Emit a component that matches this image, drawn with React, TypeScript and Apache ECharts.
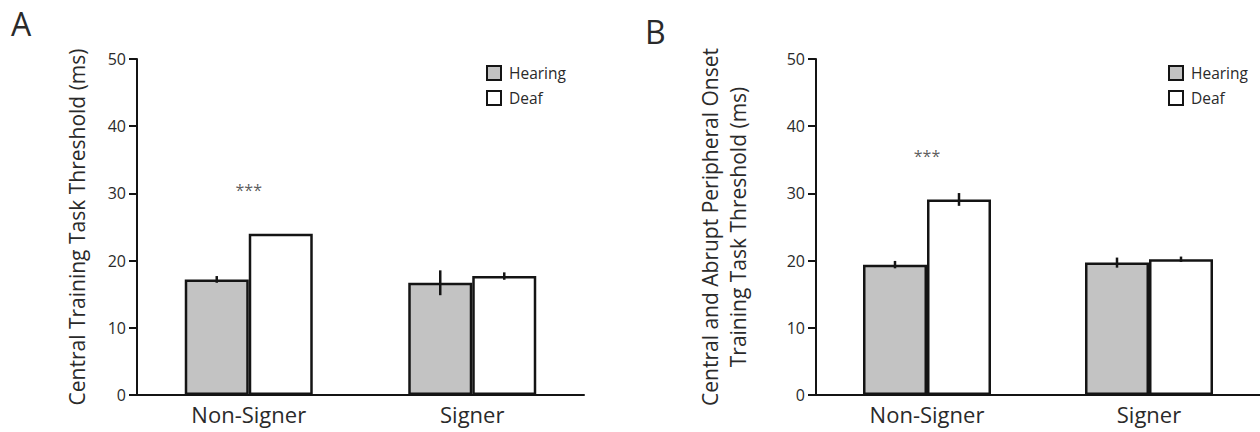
import React, { useEffect, useRef } from "react";
import * as echarts from "echarts";

const categories = ["Non-Signer", "Signer"];
const seriesNames = ["Hearing", "Deaf"];

// Panel A: Central Training Task Threshold (ms)
const aHearing = [17.2, 16.7];
const aHearingErr = [0.5, 1.85];
const aDeaf = [24.0, 17.7];
const aDeafErr = [0, 0.55];
const aSignificance = [30.5, null];

// Panel B: Central and Abrupt Peripheral Onset Training Task Threshold (ms)
const bHearing = [19.4, 19.7];
const bHearingErr = [0.55, 0.75];
const bDeaf = [29.1, 20.2];
const bDeafErr = [0.95, 0.4];
const bSignificance = [35.5, null];

const yTicks = [0, 10, 20, 30, 40, 50];

const FONT = "'Open Sans', 'Noto Sans', sans-serif";
const TEXT = "#2a2a2a";
const INK = "#141414";
const GRAY = "#c3c3c3";
const BAR_W = 64;

function errSeries(name: string, idx: number, vals: number[], errs: number[], offset: number) {
  return {
    type: "custom",
    name,
    xAxisIndex: idx,
    yAxisIndex: idx,
    z: 5,
    silent: true,
    data: vals.map((v, i) => [i, v, errs[i]]),
    renderItem: (params: any, api: any) => {
      const cat = api.value(0);
      const v = api.value(1);
      const e = api.value(2);
      if (!e) return null;
      const top = api.coord([cat, v + e]);
      const bot = api.coord([cat, v - e]);
      const x = top[0] + offset;
      return {
        type: "line",
        shape: { x1: x, y1: top[1], x2: x, y2: bot[1] },
        style: { stroke: INK, lineWidth: 2.5 },
      };
    },
  };
}

function sigSeries(idx: number, vals: (number | null)[]) {
  return {
    type: "scatter",
    name: "sig" + idx,
    xAxisIndex: idx,
    yAxisIndex: idx,
    symbolSize: 1,
    itemStyle: { color: "transparent" },
    silent: true,
    data: vals.map((v, i) => (v == null ? null : [i, v])).filter((d) => d) as any,
    label: {
      show: true,
      position: "inside",
      formatter: "***",
      fontFamily: FONT,
      fontSize: 16,
      color: "#333333",
    },
  };
}

function barSeries(name: string, idx: number, vals: number[], color: string) {
  return {
    type: "bar",
    name,
    xAxisIndex: idx,
    yAxisIndex: idx,
    data: vals,
    barWidth: BAR_W,
    barGap: "0%",
    itemStyle: { color, borderColor: INK, borderWidth: 2.5 },
  };
}

function yAxis(idx: number, name: string, nameGap: number, lineHeight: number) {
  return {
    type: "value",
    gridIndex: idx,
    min: yTicks[0],
    max: yTicks[yTicks.length - 1],
    interval: 10,
    name,
    nameLocation: "middle",
    nameGap,
    nameTextStyle: { fontFamily: FONT, fontSize: 21, color: TEXT, lineHeight },
    axisLine: { show: true, lineStyle: { color: INK, width: 2 } },
    axisTick: { show: true, length: 8, lineStyle: { color: INK, width: 2 } },
    axisLabel: { fontFamily: FONT, fontSize: 16, color: TEXT, margin: 11 },
    splitLine: { show: false },
  };
}

function xAxis(idx: number) {
  return {
    type: "category",
    gridIndex: idx,
    data: categories,
    axisLine: { show: true, lineStyle: { color: INK, width: 2 } },
    axisTick: { show: false },
    axisLabel: { fontFamily: FONT, fontSize: 22, color: TEXT, margin: 8 },
  };
}

function legend(left: number) {
  return {
    left,
    top: 60,
    orient: "vertical",
    icon: "rect",
    itemWidth: 14,
    itemHeight: 14,
    itemGap: 9,
    selectedMode: false,
    data: seriesNames,
    itemStyle: { borderColor: INK, borderWidth: 2 },
    textStyle: { fontFamily: FONT, fontSize: 15.5, color: TEXT, padding: [0, 0, 0, 3] },
  };
}

export default function App() {
  const ref = useRef<HTMLDivElement>(null);
  useEffect(() => {
    document.body.style.margin = "0";
    const chart = echarts.init(ref.current!, undefined, { renderer: "svg" });
    chart.setOption({
      animation: false,
      backgroundColor: "#ffffff",
      textStyle: { fontFamily: FONT },
      grid: [
        { left: 137, top: 59, width: 447, height: 336 },
        { left: 816, top: 59, width: 448, height: 336 },
      ],
      xAxis: [xAxis(0), xAxis(1)],
      yAxis: [
        yAxis(0, "Central Training Task Threshold (ms)", 48, 25),
        yAxis(1, "Central and Abrupt Peripheral Onset\nTraining Task Threshold (ms)", 64, 28),
      ],
      legend: [legend(481), legend(1163)],
      graphic: [
        { type: "text", left: 11, top: 7, style: { text: "A", fontFamily: FONT, fontSize: 32, fill: TEXT } },
        { type: "text", left: 645, top: 15, style: { text: "B", fontFamily: FONT, fontSize: 32, fill: TEXT } },
      ],
      series: [
        barSeries(seriesNames[0], 0, aHearing, GRAY),
        barSeries(seriesNames[1], 0, aDeaf, "#ffffff"),
        errSeries("Hearing SEM A", 0, aHearing, aHearingErr, -BAR_W / 2),
        errSeries("Deaf SEM A", 0, aDeaf, aDeafErr, BAR_W / 2),
        sigSeries(0, aSignificance),
        barSeries(seriesNames[0], 1, bHearing, GRAY),
        barSeries(seriesNames[1], 1, bDeaf, "#ffffff"),
        errSeries("Hearing SEM B", 1, bHearing, bHearingErr, -BAR_W / 2),
        errSeries("Deaf SEM B", 1, bDeaf, bDeafErr, BAR_W / 2),
        sigSeries(1, bSignificance),
      ],
    });
    return () => chart.dispose();
  }, []);
  return <div ref={ref} style={{ width: 1260, height: 432 }} />;
}
